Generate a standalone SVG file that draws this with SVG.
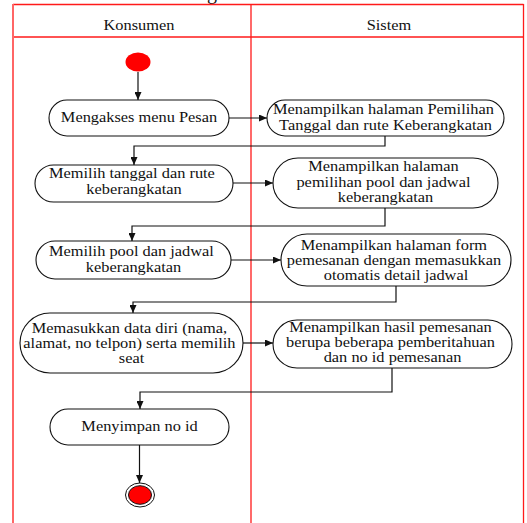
<svg xmlns="http://www.w3.org/2000/svg" width="527" height="523" viewBox="0 0 527 523">
  <style>
    .lane { stroke: #ff1a1a; stroke-width: 1.3; fill: none; }
    .lane-edge { stroke: #ff6666; stroke-width: 2; fill: none; }
    .node { fill: #ffffff; stroke: #111111; stroke-width: 1.1; }
    .label { font-family: "Liberation Serif", "Times New Roman", serif; font-size: 14px; fill: #111111; text-anchor: middle; }
    .flow { stroke: #111111; stroke-width: 1.2; fill: none; marker-end: url(#arrow); }
  </style>
  <defs>
    <marker id="arrow" markerUnits="userSpaceOnUse" markerWidth="9" markerHeight="7" refX="8" refY="3.5" orient="auto">
      <path d="M0,0 L8,3.5 L0,7 z" fill="#111111"/>
    </marker>
  </defs>

  <rect width="527" height="523" fill="#ffffff"/>

  <!-- title, cut off at the top edge -->
  <text x="207" y="-1.5" font-family="Liberation Serif, serif" font-size="20" fill="#111111">g</text>

  <!-- swimlanes -->
  <g id="swimlanes">
    <line class="lane" x1="13" y1="4.5" x2="523.5" y2="4.5"/>
    <line class="lane" x1="13" y1="37" x2="523.5" y2="37"/>
    <line class="lane-edge" x1="13" y1="4" x2="13" y2="523"/>
    <line class="lane" x1="251" y1="4.5" x2="251" y2="523"/>
    <line class="lane" x1="523.5" y1="4" x2="523.5" y2="523"/>
    <text class="label" transform="translate(139 0) scale(1.17 1)" x="0" y="30">Konsumen</text>
    <text class="label" transform="translate(389 0) scale(1.17 1)" x="0" y="30">Sistem</text>
  </g>

  <!-- connectors -->
  <g id="connectors">
    <path class="flow" d="M138,72 L138,100"/>
    <path class="flow" d="M229,118 L267,118"/>
    <path class="flow" d="M385,136 L385,146 L134,146 L134,165"/>
    <path class="flow" d="M233,183 L273,183"/>
    <path class="flow" d="M385,208 L385,226 L132,226 L132,241"/>
    <path class="flow" d="M231,260 L281,260"/>
    <path class="flow" d="M396,286 L396,302 L133,302 L133,313"/>
    <path class="flow" d="M243,343 L273,343"/>
    <path class="flow" d="M392,368 L392,392 L140,392 L140,409"/>
    <path class="flow" d="M139.5,445 L139.5,483"/>
  </g>

  <!-- start -->
  <g id="start">
    <ellipse cx="138" cy="62" rx="12.5" ry="9.5" fill="#ff0000"/>
  </g>

  <g id="n1">
    <rect class="node" x="49" y="100" width="180" height="36" rx="18"/>
    <text class="label" transform="translate(139 0) scale(1.17 1)" x="0" y="122.5">Mengakses menu Pesan</text>
  </g>

  <g id="n2">
    <rect class="node" x="267" y="100" width="237" height="36" rx="18"/>
    <text class="label" transform="translate(385.5 0) scale(1.17 1)">
      <tspan x="0" y="114">Menampilkan halaman Pemilihan</tspan>
      <tspan x="0" y="130">Tanggal dan rute Keberangkatan</tspan>
    </text>
  </g>

  <g id="n3">
    <rect class="node" x="35" y="165" width="198" height="37" rx="18.5"/>
    <text class="label" transform="translate(134 0) scale(1.17 1)">
      <tspan x="0" y="178.5">Memilih tanggal dan rute</tspan>
      <tspan x="0" y="194">keberangkatan</tspan>
    </text>
  </g>

  <g id="n4">
    <rect class="node" x="273" y="158" width="225" height="50" rx="25"/>
    <text class="label" transform="translate(385.5 0) scale(1.17 1)">
      <tspan x="0" y="171.5">Menampilkan halaman</tspan>
      <tspan x="0" y="187">pemilihan pool dan jadwal</tspan>
      <tspan x="0" y="202.5">keberangkatan</tspan>
    </text>
  </g>

  <g id="n5">
    <rect class="node" x="36" y="241" width="195" height="38" rx="19"/>
    <text class="label" transform="translate(133.5 0) scale(1.17 1)">
      <tspan x="0" y="256.5">Memilih pool dan jadwal</tspan>
      <tspan x="0" y="272">keberangkatan</tspan>
    </text>
  </g>

  <g id="n6">
    <rect class="node" x="281" y="234" width="230" height="52" rx="26"/>
    <text class="label" transform="translate(396 0) scale(1.17 1)">
      <tspan x="0" y="250">Menampilkan halaman form</tspan>
      <tspan x="0" y="265">pemesanan dengan memasukkan</tspan>
      <tspan x="0" y="280">otomatis detail jadwal</tspan>
    </text>
  </g>

  <g id="n7">
    <rect class="node" x="20" y="313" width="223" height="60" rx="30"/>
    <text class="label" transform="translate(131.5 0) scale(1.17 1)">
      <tspan x="0" y="333">Memasukkan data diri (nama,</tspan>
      <tspan x="0" y="348">alamat, no telpon) serta memilih</tspan>
      <tspan x="0" y="363">seat</tspan>
    </text>
  </g>

  <g id="n8">
    <rect class="node" x="273" y="320" width="239" height="48" rx="24"/>
    <text class="label" transform="translate(392.5 0) scale(1.17 1)">
      <tspan x="0" y="332">Menampilkan hasil pemesanan</tspan>
      <tspan x="0" y="347">berupa beberapa pemberitahuan</tspan>
      <tspan x="0" y="362">dan no id pemesanan</tspan>
    </text>
  </g>

  <g id="n9">
    <rect class="node" x="50" y="409" width="179" height="36" rx="18"/>
    <text class="label" transform="translate(139.5 0) scale(1.17 1)" x="0" y="431">Menyimpan no id</text>
  </g>

  <!-- end -->
  <g id="end">
    <ellipse cx="140" cy="495" rx="14.5" ry="12" fill="#ffffff" stroke="#111111" stroke-width="1"/>
    <ellipse cx="140" cy="495" rx="11.5" ry="9.3" fill="#ff0000" stroke="#111111" stroke-width="1"/>
  </g>
</svg>
